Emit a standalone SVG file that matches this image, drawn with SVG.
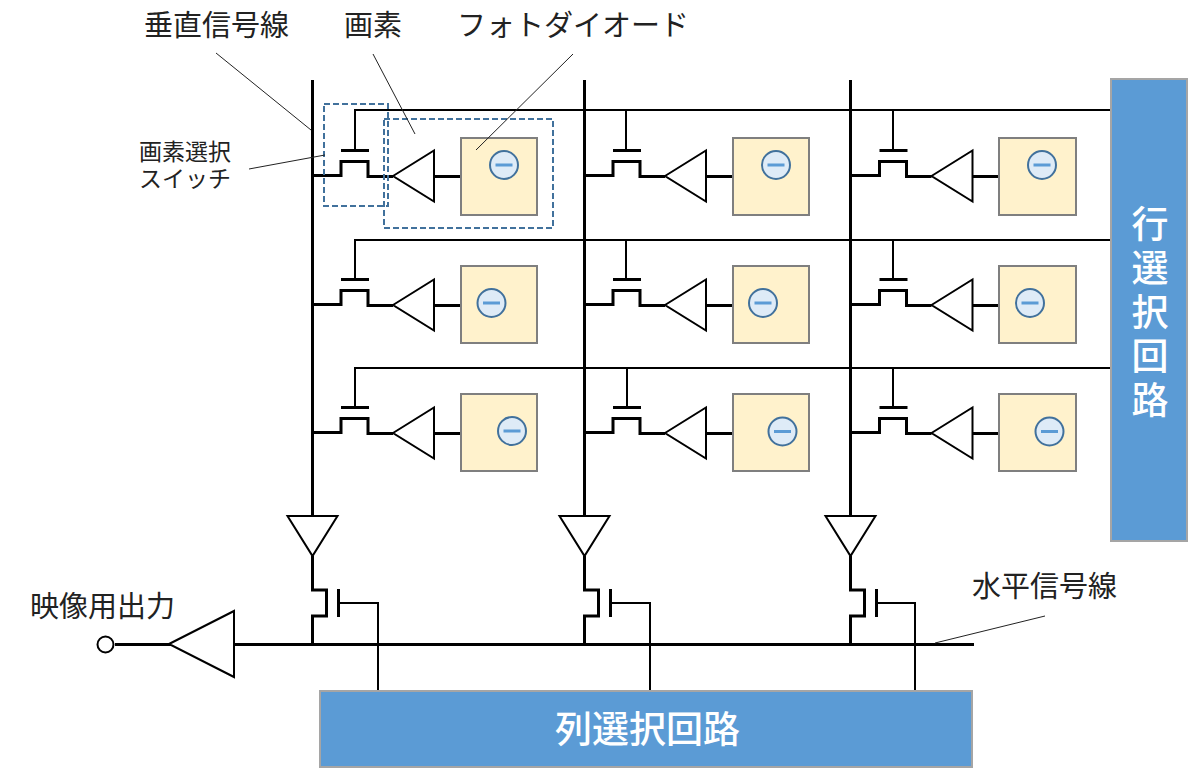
<svg xmlns="http://www.w3.org/2000/svg" xmlns:xlink="http://www.w3.org/1999/xlink" width="1191" height="772" viewBox="0 0 1191 772">
<style>
text{font-family:"Noto Sans CJK JP","Noto Sans",sans-serif;fill:#222}
.l{font-size:29px}.s{font-size:23px}
.w{font-size:37px;fill:#fff;font-weight:500}
.b{fill:none;stroke:#000;stroke-width:3}
.t{fill:none;stroke:#000;stroke-width:2}
.tri{fill:#fff;stroke:#000;stroke-width:2}
.ph{fill:#fff2cc;stroke:#7f7f7f;stroke-width:2}
.e{fill:#deebf7;stroke:#41719c;stroke-width:2}
.m{stroke:#5b9bd5;stroke-width:3;fill:none}
.d{fill:none;stroke:#41719c;stroke-width:2;stroke-dasharray:6 3}
.lead{fill:none;stroke:#222;stroke-width:1}
.blk{fill:#5b9bd5;stroke:#a5a5a5;stroke-width:2}
</style>
<defs>
<g id="sw"><path class="b" d="M0 0H28V-14H55V1H80"/><path class="b" d="M28 -25H56"/><path class="tri" d="M80 0.500L121 -25V26Z"/><path class="b" d="M121 1H148"/></g>
<g id="hole"><circle class="e" r="14"/><path class="m" d="M-8.500 0H8.500"/></g>
<g id="ro"><path class="tri" d="M-25 0H25L0 40Z"/><path class="b" d="M0 40V74H14V100H0V128"/><path class="b" d="M26 73V101"/></g>
</defs>
<g id="connectors">
<path class="b" d="M312.500 80V516M584.500 80V516M850.500 80V516"/>
<path class="t" d="M355 151V110H1111M626 110V151M893 110V151M355 281V240H1111M626 240V281M893 240V281M355 409V368H1111M627 368V409M893 368V409"/>
<path class="b" d="M115 644.500H974"/>
<path class="t" d="M338 603H378V691M610 603H650V691M876 603H915V691"/>
</g>
<g id="pixel-1-1"><use xlink:href="#sw" x="313" y="175.500"/><rect class="ph" x="461" y="138" width="76" height="77"/><use xlink:href="#hole" x="504" y="165"/></g>
<g id="pixel-1-2"><use xlink:href="#sw" x="585" y="175.500"/><rect class="ph" x="733" y="138" width="76" height="77"/><use xlink:href="#hole" x="776" y="165"/></g>
<g id="pixel-1-3"><use xlink:href="#sw" x="851.500" y="175.500"/><rect class="ph" x="999" y="138" width="77" height="77"/><use xlink:href="#hole" x="1042" y="165"/></g>
<g id="pixel-2-1"><use xlink:href="#sw" x="313" y="304.500"/><rect class="ph" x="461" y="266" width="76" height="77"/><use xlink:href="#hole" x="491.500" y="303"/></g>
<g id="pixel-2-2"><use xlink:href="#sw" x="585" y="304.500"/><rect class="ph" x="733" y="266" width="76" height="77"/><use xlink:href="#hole" x="763" y="303"/></g>
<g id="pixel-2-3"><use xlink:href="#sw" x="851.500" y="304.500"/><rect class="ph" x="999" y="266" width="77" height="77"/><use xlink:href="#hole" x="1030" y="303"/></g>
<g id="pixel-3-1"><use xlink:href="#sw" x="313" y="432.500"/><rect class="ph" x="461" y="394" width="76" height="77"/><use xlink:href="#hole" x="512" y="431"/></g>
<g id="pixel-3-2"><use xlink:href="#sw" x="585" y="432.500"/><rect class="ph" x="733" y="394" width="76" height="77"/><use xlink:href="#hole" x="782.500" y="431.500"/></g>
<g id="pixel-3-3"><use xlink:href="#sw" x="851.500" y="432.500"/><rect class="ph" x="999" y="394" width="77" height="77"/><use xlink:href="#hole" x="1049.500" y="431.500"/></g>
<g id="readout-1"><use xlink:href="#ro" x="312.500" y="516"/></g>
<g id="readout-2"><use xlink:href="#ro" x="584.500" y="516"/></g>
<g id="readout-3"><use xlink:href="#ro" x="850.500" y="516"/></g>
<g id="output"><circle cx="105.500" cy="644.500" r="8" fill="#fff" stroke="#000" stroke-width="2"/><path class="tri" d="M169 644L234 611V677Z"/></g>
<g id="dashes"><rect class="d" x="324" y="104" width="64" height="102"/><rect class="d" x="384" y="119" width="169" height="109"/></g>
<g id="leaders"><path class="lead" d="M216 53L311 130M373 54L415 134M573 54L476 150M249 169L325 155M935 643L1045 616"/></g>
<g id="row-select"><rect class="blk" x="1111" y="79" width="76" height="462"/>
<text class="w" x="1150" y="205" style="writing-mode:vertical-rl;letter-spacing:7.200px">行選択回路</text></g>
<g id="col-select"><rect class="blk" x="320" y="691" width="652" height="76"/><text class="w" x="647.500" y="743" text-anchor="middle">列選択回路</text></g>
<g id="labels">
<text class="l" x="144" y="36">垂直信号線</text>
<text class="l" x="344" y="36">画素</text>
<text class="l" x="457" y="36">フォトダイオード</text>
<text class="s"><tspan x="139" y="160">画素選択</tspan><tspan x="139" y="187">スイッチ</tspan></text>
<text class="l" x="30" y="617">映像用出力</text>
<text class="l" x="972" y="597">水平信号線</text>
</g>
</svg>
